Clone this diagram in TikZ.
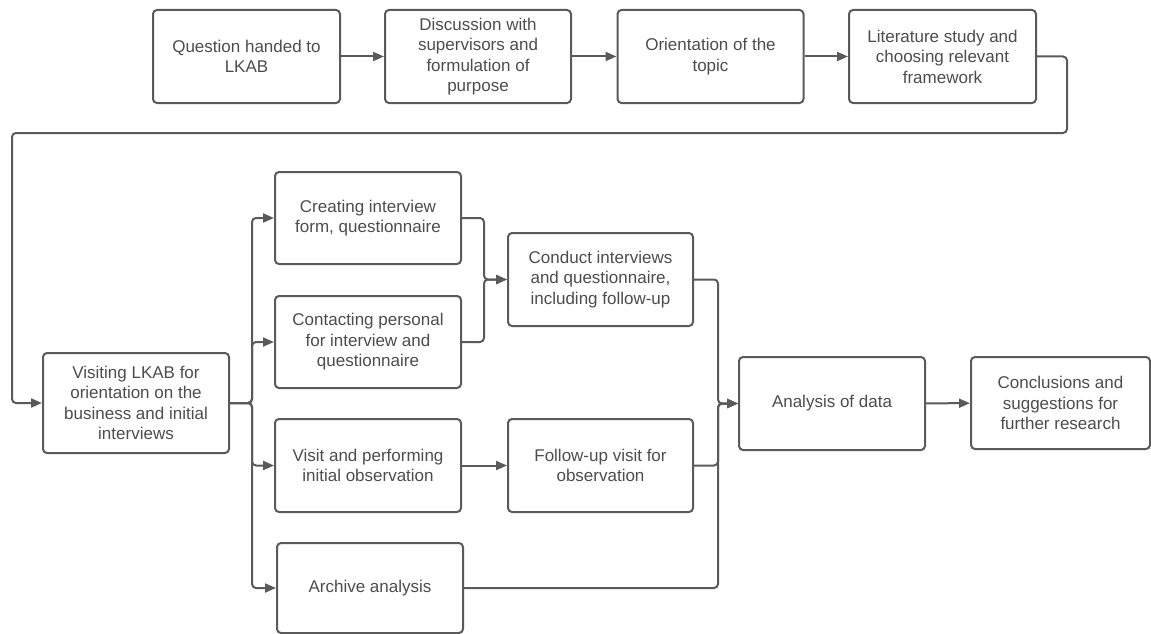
\documentclass[tikz,border=0pt]{standalone}
\usepackage{fontspec}
\setmainfont{Liberation Sans}
\usetikzlibrary{arrows.meta}
\definecolor{edge}{HTML}{5A5A5A}
\definecolor{ink}{HTML}{4D4D4D}
\begin{document}
\begin{tikzpicture}[x=1pt,y=-1pt,
  stepbox/.style={draw=edge, line width=2pt, rounded corners=4pt, fill=white,
    minimum width=186pt, minimum height=93pt, inner sep=0pt, align=center,
    text=ink, font=\fontsize{17}{20.5}\selectfont},
  link/.style={draw=edge, line width=2pt, rounded corners=4pt},
  flow/.style={link, -{Triangle[length=11pt,width=9pt]}}]
\useasboundingbox (0,0) rectangle (1151,634);

% top row
\node[stepbox, minimum width=187pt] (q) at (246.5,56.5) {Question handed to\\LKAB};
\node[stepbox] (disc) at (478,56.5) {Discussion with\\supervisors and\\formulation of\\purpose};
\node[stepbox] (orient) at (710.5,56.5) {Orientation of the\\topic};
\node[stepbox, minimum width=187pt] (lit) at (942.5,56.5) {Literature study and\\choosing relevant\\framework};

% left entry box
\node[stepbox, minimum height=100pt] (vis) at (136,403) {Visiting LKAB for\\orientation on the\\business and initial\\interviews};

% parallel branches
\node[stepbox, minimum height=92pt] (create) at (368,218) {Creating interview\\form, questionnaire};
\node[stepbox, minimum height=92pt] (contact) at (368,342) {Contacting personal\\for interview and\\questionnaire};
\node[stepbox, minimum width=185pt] (conduct) at (600.5,279.5) {Conduct interviews\\and questionnaire,\\including follow-up};
\node[stepbox] (visit) at (368,465.5) {Visit and performing\\initial observation};
\node[stepbox, minimum width=185pt] (follow) at (600.5,465.5) {Follow-up visit for\\observation};
\node[stepbox, minimum height=90pt] (archive) at (370,588) {Archive analysis};

% final steps
\node[stepbox] (analysis) at (832,403.5) {Analysis of data};
\node[stepbox, minimum width=179pt, minimum height=92pt] (concl) at (1060.5,403) {Conclusions and\\suggestions for\\further research};

% junction points
\coordinate (loopR) at (1067,133);
\coordinate (loopL) at (12,133);
\coordinate (split) at (252,403);
\coordinate (join1) at (484,279.5);
\coordinate (join2) at (718,403.5);

% top row connectors
\draw[flow] (q) -- (disc);
\draw[flow] (disc) -- (orient);
\draw[flow] (orient) -- (lit);
\draw[flow] (lit.east) -| (loopR) -- (loopL) |- (vis.west);

% split into branches
\draw[flow] (vis.east) -- (split) |- (create.west);
\draw[flow] (vis.east) -- (split) |- (contact.west);
\draw[flow] (vis.east) -- (split) |- (visit.west);
\draw[flow] (vis.east) -- (split) |- (archive.west);

% first merge
\draw[flow] (create.east) -| (join1) -- (conduct.west);
\draw[flow] (contact.east) -| (join1) -- (conduct.west);

\draw[flow] (visit) -- (follow);

% second merge
\draw[flow] (conduct.east) -| (join2) -- (analysis.west);
\draw[flow] (follow.east) -| (join2) -- (analysis.west);
\draw[flow] (archive.east) -| (join2) -- (analysis.west);

\draw[flow] (analysis) -- (concl);
\end{tikzpicture}
\end{document}
